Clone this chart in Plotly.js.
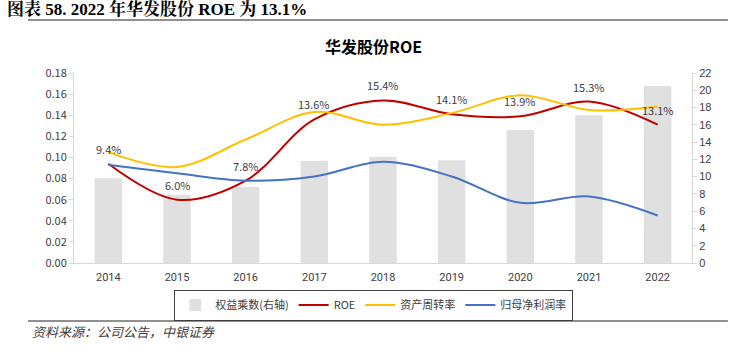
<!DOCTYPE html>
<html>
<head>
<meta charset="utf-8">
<script src="https://cdn.plot.ly/plotly-3.0.1.min.js"></script>
<style>html,body{margin:0;padding:0;background:#fff;}#chart{width:746px;height:352px;}</style>
</head>
<body>
<div id="chart"></div>
<script>
const years = ['2014','2015','2016','2017','2018','2019','2020','2021','2022'];
const equityMultiplier = [9.8, 7.9, 8.8, 11.8, 12.3, 11.9, 15.4, 17.1, 20.5];
const roe = [0.094, 0.060, 0.078, 0.136, 0.154, 0.141, 0.139, 0.153, 0.131];
const assetTurnover = [0.105, 0.091, 0.117, 0.143, 0.131, 0.142, 0.159, 0.145, 0.148];
const netMargin = [0.093, 0.085, 0.078, 0.082, 0.096, 0.082, 0.057, 0.063, 0.045];
const roeLabels = ['9.4%','6.0%','7.8%','13.6%','15.4%','14.1%','13.9%','15.3%','13.1%'];

const cjk = 'Noto Sans CJK SC, sans-serif';
const txt = '#404040';

const traces = [
  {type:'bar', x:years, y:equityMultiplier, name:'权益乘数(右轴)', yaxis:'y',
   marker:{color:'#E0E0E0'}, width:0.4},
  {type:'scatter', mode:'lines', x:years, y:roe, name:'ROE', yaxis:'y2',
   line:{color:'#C00000', width:2, shape:'spline', smoothing:1}},
  {type:'scatter', mode:'lines', x:years, y:assetTurnover, name:'资产周转率', yaxis:'y2',
   line:{color:'#FFC000', width:2, shape:'spline', smoothing:1}},
  {type:'scatter', mode:'lines', x:years, y:netMargin, name:'归母净利润率', yaxis:'y2',
   line:{color:'#4472C4', width:2, shape:'spline', smoothing:1}}
];

// category axis: annotation x given as the category index
const labelAnns = years.map((yr, i) => ({
  text: roeLabels[i], x: i, y: roe[i], xref:'x', yref:'y2',
  xanchor:'center', yanchor:'middle', yshift:15, showarrow:false,
  font:{family:cjk, size:11, color:txt}
}));

const layout = {
  width:746, height:352,
  margin:{l:74, r:54, t:73, b:89},
  paper_bgcolor:'#fff', plot_bgcolor:'#fff',
  showlegend:true,
  xaxis:{type:'category', range:[-0.5, years.length - 0.5], autorange:false,
         showgrid:false, showline:true, linecolor:'#D9D9D9', linewidth:1,
         ticks:'', ticklabelstandoff:4,
         tickfont:{family:'Liberation Sans Narrow, Roboto, sans-serif', size:11, color:txt}},
  yaxis:{side:'right', range:[0,22], dtick:2, showgrid:false, zeroline:false,
         showline:true, linecolor:'#D9D9D9', ticks:'outside', ticklen:4, tickcolor:'#D9D9D9',
         tickfont:{family:'Liberation Sans, sans-serif', size:11, color:txt}},
  yaxis2:{side:'left', overlaying:'y', range:[0,0.18], dtick:0.02, tickformat:'.2f', showgrid:false, zeroline:false,
          showline:true, linecolor:'#D9D9D9', ticks:'outside', ticklen:4, tickcolor:'#D9D9D9',
          tickfont:{family:cjk, size:11, color:txt}},
  legend:{orientation:'h', x:0.485, xanchor:'center', y:-0.14, yanchor:'top',
          bordercolor:'#404040', borderwidth:1, font:{family:cjk, size:11, color:txt},
          itemwidth:30, traceorder:'normal'},
  shapes:[
    {type:'line', xref:'paper', yref:'paper', x0:-0.0744, x1:1.058, y0:1.279, y1:1.279, line:{color:'#909090', width:2}},
    {type:'line', xref:'paper', yref:'paper', x0:-0.0744, x1:1.058, y0:-0.305, y1:-0.305, line:{color:'#909090', width:2}}
  ],
  annotations:[
    {text:'<b>图表 58. 2022 年华发股份 ROE 为 13.1%</b>', xref:'paper', yref:'paper', x:-0.1117, y:1.337,
     xanchor:'left', yanchor:'middle', showarrow:false,
     font:{family:'Liberation Serif, Noto Serif CJK SC, Noto Sans CJK SC, serif', size:17, color:'#000'}},
    {text:'<b>华发股份ROE</b>', xref:'paper', yref:'paper', x:0.484, y:1.142,
     xanchor:'center', yanchor:'middle', showarrow:false,
     font:{family:cjk, size:16, color:'#000'}},
    {text:'<i>资料来源：公司公告，中银证券</i>', xref:'paper', yref:'paper', x:-0.0712, y:-0.363,
     xanchor:'left', yanchor:'middle', showarrow:false,
     font:{family:cjk, size:13, color:txt}}
  ].concat(labelAnns)
};

Plotly.newPlot('chart', traces, layout, {displayModeBar:false, staticPlot:true});
</script>
</body>
</html>
